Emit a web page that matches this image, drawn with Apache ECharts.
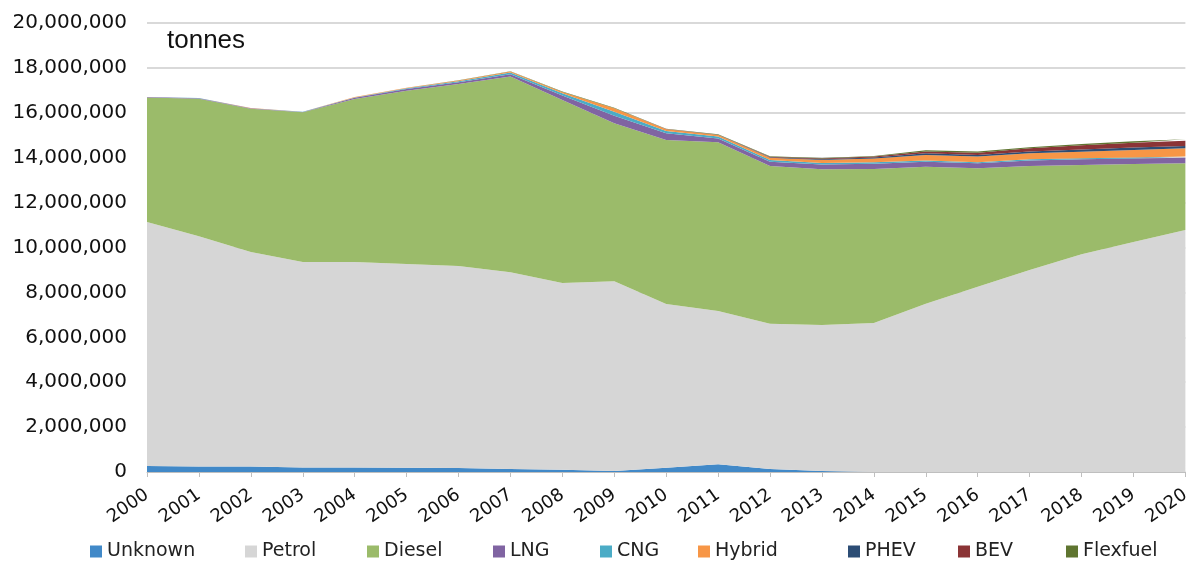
<!DOCTYPE html>
<html>
<head>
<meta charset="utf-8">
<script src="https://cdn.jsdelivr.net/npm/echarts@6/dist/echarts.min.js"></script>
<style>
  html, body { margin: 0; padding: 0; background: #fff; }
  #chart { width: 1193px; height: 563px; }
</style>
</head>
<body>
<div id="chart"></div>
<script>
// Years on the category axis
const years = ['2000','2001','2002','2003','2004','2005','2006','2007','2008','2009','2010',
               '2011','2012','2013','2014','2015','2016','2017','2018','2019','2020'];

// Tonnes per fuel type, stacked bottom to top
const unknown  = [270000,250000,250000,200000,200000,190000,180000,130000,100000,40000,190000,340000,130000,40000,0,0,0,0,0,0,0];
const petrol   = [10870000,10250000,9550000,9150000,9150000,9080000,9000000,8770000,8320000,8460000,7290000,6830000,6470000,6510000,6640000,7500000,8250000,9000000,9700000,10250000,10780000];
const diesel   = [5540000,6130000,6380000,6670000,7270000,7710000,8100000,8720000,8150000,7030000,7310000,7520000,7030000,6930000,6860000,6100000,5280000,4630000,3970000,3470000,2970000];
const lng      = [20000,20000,20000,20000,50000,80000,80000,100000,200000,340000,300000,170000,190000,220000,230000,220000,220000,240000,260000,240000,250000];
const cng      = [5000,5000,5000,5000,15000,30000,40000,70000,100000,180000,100000,80000,80000,60000,70000,50000,50000,60000,40000,50000,50000];
const hybrid   = [3000,5000,5000,5000,20000,30000,40000,50000,60000,150000,80000,70000,100000,140000,160000,250000,250000,270000,300000,330000,370000];
const phev     = [0,0,0,0,0,0,0,0,0,0,0,0,20000,30000,45000,80000,70000,80000,100000,110000,100000];
const bev      = [0,0,0,0,0,0,0,0,0,0,5000,10000,20000,30000,45000,80000,100000,140000,180000,220000,240000];
const flexfuel = [0,0,0,0,0,0,5000,10000,15000,20000,20000,20000,20000,30000,30000,50000,60000,40000,60000,60000,60000];

const seriesNames = ['Unknown','Petrol','Diesel','LNG','CNG','Hybrid','PHEV','BEV','Flexfuel'];
const seriesData  = [unknown, petrol, diesel, lng, cng, hybrid, phev, bev, flexfuel];
const colors = ['#4189c8','#d6d6d6','#9bbb6a','#8064a2','#4bacc6','#f79646','#2c4d75','#8b3436','#5f7530'];

// Left edge of each legend entry along the bottom row
const legendLeft = [90, 245, 367, 493, 600, 698, 848, 958, 1066];

const fmt = v => String(v).replace(/\B(?=(\d{3})+(?!\d))/g, ',');

const chart = echarts.init(document.getElementById('chart'), null, { renderer: 'canvas' });

chart.setOption({
  animation: false,
  color: colors,
  textStyle: { fontFamily: 'DejaVu Sans' },
  grid: { left: 147, right: 4, top: 23, bottom: 91, containLabel: false },
  graphic: [{
    type: 'text', left: 167, top: 28,
    style: { text: 'tonnes', font: '26px "Liberation Sans"', fill: '#111' }
  }],
  legend: seriesNames.map((name, i) => ({
    top: 542, left: legendLeft[i], padding: 0,
    icon: 'rect', itemWidth: 12, itemHeight: 12, itemGap: 5,
    textStyle: { fontSize: 19, color: '#222', fontFamily: 'DejaVu Sans' },
    data: [name]
  })),
  xAxis: {
    type: 'category', data: years, boundaryGap: false,
    axisLine: { lineStyle: { color: '#bfbfbf', width: 1 } },
    axisTick: { show: true, length: 5, lineStyle: { color: '#bfbfbf' } },
    axisLabel: { rotate: 35, fontSize: 18, color: '#111', margin: 21, interval: 0 }
  },
  yAxis: {
    type: 'value', min: 0, max: 20000000, interval: 2000000,
    axisLine: { show: false }, axisTick: { show: false },
    splitLine: { lineStyle: { color: '#d9d9d9', width: 2 } },
    axisLabel: { fontSize: 20, color: '#111', margin: 20, formatter: v => fmt(v) }
  },
  series: seriesNames.map((name, i) => ({
    name, type: 'line', stack: 'total', data: seriesData[i],
    symbol: 'none', showSymbol: false,
    lineStyle: { width: 0 },
    areaStyle: { color: colors[i], opacity: 1 },
    emphasis: { disabled: true }
  }))
});
</script>
</body>
</html>
